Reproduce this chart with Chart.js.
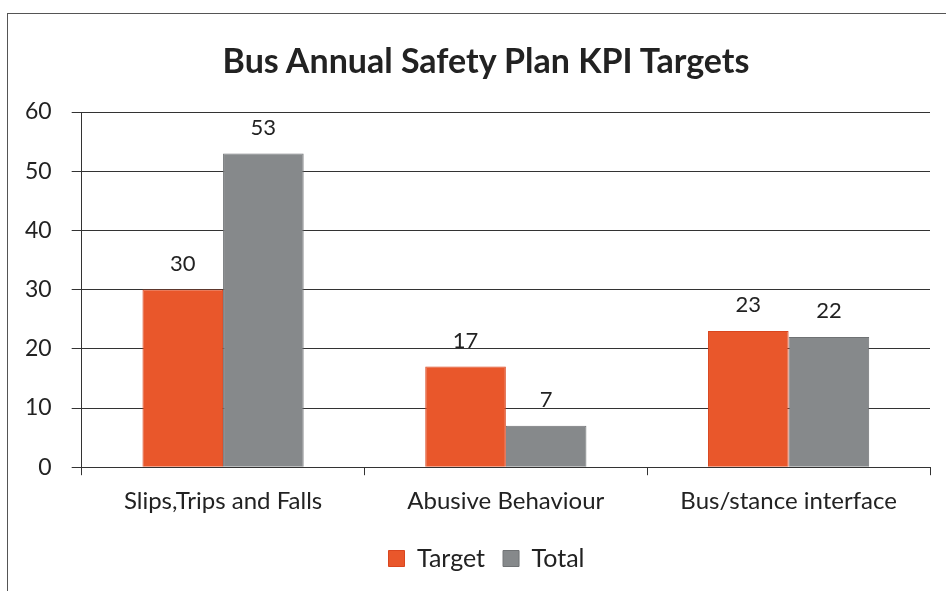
<!DOCTYPE html>
<html>
<head>
<meta charset="utf-8">
<script src="https://cdn.jsdelivr.net/npm/chart.js@4"></script>
<style>
  html, body { margin: 0; padding: 0; background: #fff; }
  #wrap { position: relative; width: 946px; height: 591px; overflow: hidden; }
  #frame { position: absolute; left: 7px; top: 13px; width: 960px; height: 600px;
           border-top: 1px solid #555; border-left: 1px solid #555; }
  #title { position: absolute; left: 0; width: 972px; top: 38px; text-align: center;
           font: bold 34px Lato, 'Open Sans', sans-serif; color: #222; line-height: 44px; }
  canvas { position: absolute; left: 0; top: 0; }
</style>
</head>
<body>
<div id="wrap">
  <div id="frame"></div>
  <canvas id="kpiChart" width="946" height="591"></canvas>
  <div id="title">Bus Annual Safety Plan KPI Targets</div>
</div>
<script>
// Data
const categories = ["Slips,Trips and Falls", "Abusive Behaviour", "Bus/stance interface"];
const targetValues = [30, 17, 23];
const totalValues = [53, 7, 22];
const yTicks = [0, 10, 20, 30, 40, 50, 60];

const FONT = "Lato, 'Open Sans', sans-serif";

// Labels above each bar
const valueLabels = {
  id: "valueLabels",
  afterDatasetsDraw(chart) {
    const c = chart.ctx;
    c.save();
    c.font = "22px " + FONT;
    c.fillStyle = "#222";
    c.textAlign = "center";
    c.textBaseline = "middle";
    chart.data.datasets.forEach((ds, i) => {
      chart.getDatasetMeta(i).data.forEach((bar, j) => {
        c.fillText(ds.data[j], bar.x, bar.y - 26);
      });
    });
    c.restore();
  }
};

// legend in the original sits a bit right of canvas centre
const legendShift = {
  id: "legendShift",
  afterLayout(chart) {
    chart.legend.left += 19;
    chart.legend.right += 19;
  }
};

new Chart(document.getElementById("kpiChart").getContext("2d"), {
  type: "bar",
  data: {
    labels: categories,
    datasets: [
      { label: "Target", data: targetValues, backgroundColor: "#E9572B",
        borderColor: "#D9461F", borderWidth: 1 },
      { label: "Total", data: totalValues, backgroundColor: "#86898B",
        borderColor: "#6f7274", borderWidth: 1 }
    ]
  },
  options: {
    responsive: false,
    animation: false,
    categoryPercentage: 0.57,
    barPercentage: 1.0,
    layout: { padding: { top: 112, left: 5, right: 16, bottom: 10 } },
    plugins: {
      title: { display: false },
      legend: {
        position: "bottom",
        labels: {
          color: "#222",
          font: { family: FONT, size: 25 },
          boxWidth: 16, boxHeight: 16, padding: 18
        }
      },
      tooltip: { enabled: false }
    },
    scales: {
      x: {
        grid: { drawOnChartArea: false, drawTicks: true, tickLength: 8, color: "#333" },
        border: { display: true, color: "#333", width: 1 },
        ticks: { color: "#222", font: { family: FONT, size: 24 }, padding: 12 }
      },
      y: {
        min: 0, max: 60,
        afterBuildTicks: axis => { axis.ticks = yTicks.map(v => ({ value: v })); },
        grid: { color: "#333", tickLength: 10 },
        border: { display: true, color: "#333", width: 1 },
        ticks: { color: "#222", font: { family: FONT, size: 23 }, padding: 20 }
      }
    }
  },
  plugins: [valueLabels, legendShift]
});
</script>
</body>
</html>
